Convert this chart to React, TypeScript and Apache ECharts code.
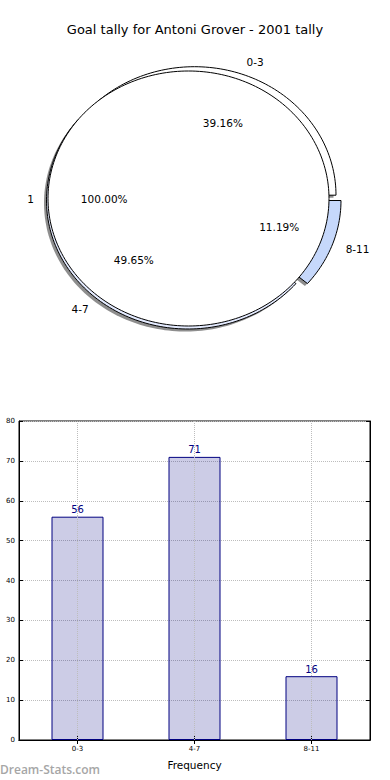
import { useEffect, useRef } from 'react';
import * as echarts from 'echarts';

// ---------- data ----------
const chartTitle = 'Goal tally for Antoni Grover - 2001 tally';
const categories = ['0-3', '4-7', '8-11'];
const counts = [56, 71, 16];
const innerLabels = ['1'];
const innerValues = [143];
const yMin = 0;
const yMax = 80;
const yStep = 10;
const xAxisName = 'Frequency';
const watermark = 'Dream-Stats.com';

// ---------- style ----------
const FONT = 'DejaVu Sans';
const PIE = { cx: 188.5, cy: 198.5, rx: 140.5, ry: 127.5, grow: 1 };
const OUTER_SHIFT = [[6, -3.3], [-0.5, 2], [11, 2]];
const OUTER_FILL = ['#ffffff', '#e4ebff', '#c6d8fb'];
const SHADOW = { dx: -2.5, dy: 2.5, fill: 'rgba(50,50,50,0.55)' };
const LABEL_DIST = 1.1;
const PCT_DIST = 0.6;

function sliceAngles(values: number[]) {
  const total = values.reduce((s, v) => s + v, 0);
  let acc = 0;
  return values.map((v) => {
    const a1 = (acc / total) * 360;
    acc += v;
    return { a1, a2: (acc / total) * 360, frac: v / total };
  });
}

function arcPoints(cx: number, cy: number, rx: number, ry: number, a1: number, a2: number, withCenter: boolean) {
  const pts: number[][] = [];
  if (withCenter) pts.push([cx, cy]);
  const n = Math.max(8, Math.ceil(Math.abs(a2 - a1) / 1.5));
  for (let k = 0; k <= n; k++) {
    const a = ((a1 + ((a2 - a1) * k) / n) * Math.PI) / 180;
    pts.push([cx + rx * Math.cos(a), cy - ry * Math.sin(a)]);
  }
  return pts;
}

const outerAngles = sliceAngles(counts);
const innerAngles = sliceAngles(innerValues);

function outerGeom(i: number) {
  const [ox, oy] = OUTER_SHIFT[i] || [0, 0];
  return {
    cx: PIE.cx + ox,
    cy: PIE.cy + oy,
    rx: PIE.rx + PIE.grow,
    ry: PIE.ry + PIE.grow,
  };
}

function labelTexts(cx: number, cy: number, rx: number, ry: number, a1: number, a2: number, name: string, frac: number) {
  const mid = (((a1 + a2) / 2) * Math.PI) / 180;
  const c = Math.cos(mid);
  const s = Math.sin(mid);
  const lx = cx + LABEL_DIST * rx * c;
  const ly = cy - LABEL_DIST * ry * s;
  const px = cx + PCT_DIST * rx * c;
  const py = cy - PCT_DIST * ry * s;
  return [
    {
      type: 'text',
      x: lx,
      y: ly,
      style: {
        text: name,
        fill: '#000',
        fontFamily: FONT,
        fontSize: 10.5,
        align: c > 0 ? 'left' : 'right',
        verticalAlign: 'middle',
      },
    },
    {
      type: 'text',
      x: px,
      y: py,
      style: {
        text: (frac * 100).toFixed(2) + '%',
        fill: '#000',
        fontFamily: FONT,
        fontSize: 10.5,
        align: 'center',
        verticalAlign: 'middle',
      },
    },
  ];
}

export default function App() {
  const ref = useRef<HTMLDivElement>(null);

  useEffect(() => {
    if (!ref.current) return;
    const chart = echarts.init(ref.current, undefined, { renderer: 'svg' });

    const option: any = {
      animation: false,
      backgroundColor: '#ffffff',
      title: {
        text: chartTitle,
        left: 'center',
        top: 18,
        textStyle: { fontFamily: FONT, fontSize: 13, fontWeight: 'normal', color: '#000' },
      },
      grid: {
        left: 19,
        right: 20,
        top: 421,
        bottom: 40,
        show: true,
        borderColor: '#000',
        borderWidth: 1,
        backgroundColor: 'transparent',
      },
      xAxis: [
        {
          type: 'category',
          data: categories,
          position: 'bottom',
          boundaryGap: true,
          axisLine: { show: true, lineStyle: { color: '#000', width: 1 } },
          axisTick: { show: true, inside: true, alignWithLabel: true, length: 4, lineStyle: { color: '#000' } },
          axisLabel: { fontFamily: FONT, fontSize: 7, color: '#000', margin: 5 },
          splitLine: { show: false },
          name: xAxisName,
          nameLocation: 'middle',
          nameGap: 19,
          nameTextStyle: { fontFamily: FONT, fontSize: 10.5, color: '#000' },
        },
        {
          type: 'category',
          data: categories,
          position: 'top',
          boundaryGap: true,
          axisLine: { show: true, lineStyle: { color: '#000', width: 1 } },
          axisTick: { show: true, inside: true, alignWithLabel: true, length: 4, lineStyle: { color: '#000' } },
          axisLabel: { show: false },
          splitLine: { show: false },
        },
      ],
      yAxis: [
        {
          type: 'value',
          min: yMin,
          max: yMax,
          interval: yStep,
          position: 'left',
          axisLine: { show: true, lineStyle: { color: '#000', width: 1 } },
          axisTick: { show: true, inside: true, length: 4, lineStyle: { color: '#000' } },
          axisLabel: { fontFamily: FONT, fontSize: 7, color: '#000', margin: 4 },
          splitLine: { show: true, lineStyle: { type: 'dotted', color: '#bdbdbd', width: 1 } },
        },
        {
          type: 'value',
          min: yMin,
          max: yMax,
          interval: yStep,
          position: 'right',
          axisLine: { show: true, lineStyle: { color: '#000', width: 1 } },
          axisTick: { show: true, inside: true, length: 4, lineStyle: { color: '#000' } },
          axisLabel: { show: false },
          splitLine: { show: false },
        },
      ],
      graphic: [
        {
          type: 'text',
          left: 0,
          top: 763,
          style: {
            text: watermark,
            fill: '#a6a6a6',
            fontFamily: 'Open Sans',
            fontWeight: 600,
            fontSize: 12,
          },
        },
      ],
      series: [
        // shadow of outer pie
        {
          type: 'custom',
          coordinateSystem: 'none',
          silent: true,
          z: 1,
          data: counts,
          renderItem: (params: any) => {
            const i = params.dataIndex;
            const g = outerGeom(i);
            const a = outerAngles[i];
            return {
              type: 'polygon',
              shape: { points: arcPoints(g.cx + SHADOW.dx, g.cy + SHADOW.dy, g.rx, g.ry, a.a1, a.a2, true) },
              style: { fill: SHADOW.fill, stroke: 'none' },
            };
          },
        },
        // outer pie wedges
        {
          type: 'custom',
          coordinateSystem: 'none',
          silent: true,
          z: 2,
          data: counts,
          renderItem: (params: any) => {
            const i = params.dataIndex;
            const g = outerGeom(i);
            const a = outerAngles[i];
            return {
              type: 'polygon',
              shape: { points: arcPoints(g.cx, g.cy, g.rx, g.ry, a.a1, a.a2, true) },
              style: { fill: OUTER_FILL[i % OUTER_FILL.length], stroke: '#000', lineWidth: 1 },
            };
          },
        },
        // inner pie
        {
          type: 'custom',
          coordinateSystem: 'none',
          silent: true,
          z: 3,
          data: innerValues,
          renderItem: (params: any) => {
            const i = params.dataIndex;
            const a = innerAngles[i];
            const full = a.a2 - a.a1 >= 359.999;
            return {
              type: 'polygon',
              shape: { points: arcPoints(PIE.cx, PIE.cy, PIE.rx, PIE.ry, a.a1, a.a2, !full) },
              style: { fill: '#ffffff', stroke: '#000', lineWidth: 1 },
            };
          },
        },
        // outer labels
        {
          type: 'custom',
          coordinateSystem: 'none',
          silent: true,
          z: 5,
          data: counts,
          renderItem: (params: any) => {
            const i = params.dataIndex;
            const g = outerGeom(i);
            const a = outerAngles[i];
            return {
              type: 'group',
              children: labelTexts(g.cx, g.cy, g.rx, g.ry, a.a1, a.a2, categories[i], a.frac),
            };
          },
        },
        // inner labels
        {
          type: 'custom',
          coordinateSystem: 'none',
          silent: true,
          z: 5,
          data: innerValues,
          renderItem: (params: any) => {
            const i = params.dataIndex;
            const a = innerAngles[i];
            return {
              type: 'group',
              children: labelTexts(PIE.cx, PIE.cy, PIE.rx, PIE.ry, a.a1, a.a2, innerLabels[i], a.frac),
            };
          },
        },
        // bars
        {
          type: 'bar',
          xAxisIndex: 0,
          yAxisIndex: 0,
          data: counts,
          barWidth: 52,
          itemStyle: { color: 'rgba(0,0,128,0.2)', borderColor: '#000080', borderWidth: 1 },
          label: {
            show: true,
            position: 'top',
            distance: 2,
            color: '#000080',
            fontFamily: FONT,
            fontSize: 10,
          },
          markLine: {
            silent: true,
            symbol: 'none',
            label: { show: false },
            lineStyle: { type: 'dotted', color: '#bdbdbd', width: 1 },
            data: categories.map((c) => ({ xAxis: c })),
          },
        },
      ],
    };

    chart.setOption(option);
    return () => chart.dispose();
  }, []);

  return (
    <div
      ref={ref}
      style={{ position: 'absolute', left: 0, top: 0, width: 390, height: 780, background: '#fff' }}
    />
  );
}
